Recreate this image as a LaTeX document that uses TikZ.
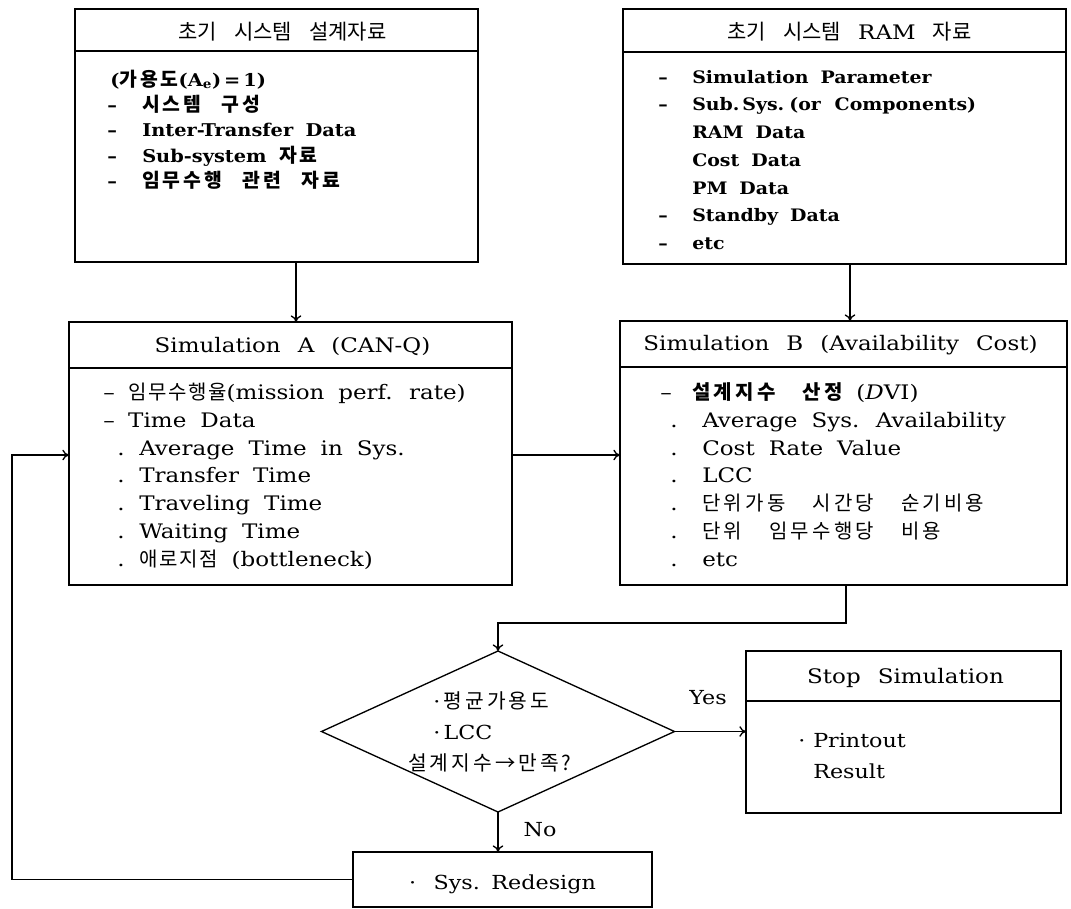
\documentclass[tikz,border=0pt]{standalone}
\usepackage{fontspec}
\setmainfont{DejaVu Serif}[FakeStretch=1.15]
\newfontfamily\bsf{DejaVu Serif}[FakeStretch=1.1]
\newfontfamily\kr{Noto Sans CJK KR}[Scale=1.05,LetterSpace=15]
\newfontfamily\krh{Noto Sans CJK KR}[Scale=1.05]
\newfontfamily\kra{Noto Sans CJK KR}[Scale=1.0,LetterSpace=8]
\newfontfamily\krb{Noto Sans CJK KR}[Scale=1.0,LetterSpace=16]
\newfontfamily\krc{Noto Sans CJK KR}[Scale=1.1,LetterSpace=15]
\usetikzlibrary{arrows.meta,shapes.geometric,calc}
\newcommand\mk[2]{\strut\makebox[#1][l]{#2}}
\newcommand\wsp{\spaceskip 0.7em\relax}
\newcommand\wsph{\spaceskip 0.85em\relax}
\newcommand\kw{\hspace{1.05em}}
\newcommand\kwb{\hspace{1.35em}}
\begin{document}
\begin{tikzpicture}[x=0.75pt,y=-0.75pt,
  box/.style={draw, line width=1pt, rectangle, inner sep=0pt, outer sep=0pt, anchor=north west},
  hdr/.style={font=\fontsize{15}{18}\selectfont\wsph, inner sep=0pt},
  body/.style={font=\fontsize{15}{20.8}\selectfont\wsp, align=left, inner sep=0pt, anchor=north west},
  bodybold/.style={body, font=\bsf\fontsize{12.9}{20.8}\selectfont\bfseries\wsp},
  bodyb/.style={body, font=\bsf\fontsize{13.2}{19}\selectfont\bfseries\wsp},
  bodyc/.style={body, font=\fontsize{14.5}{23.25}\selectfont\wsp},
  conn/.style={line width=1pt},
  arr/.style={conn, -{To[length=5pt,width=8pt]}},
  lbl/.style={font=\fontsize{14.5}{17}\selectfont, inner sep=0pt}
]
\fill[white] (0,0) rectangle (1071,908);
\useasboundingbox (0,0) rectangle (1071,908);

% boxes
\node[box, minimum width=403*0.75pt, minimum height=253*0.75pt] (b1) at (75,9) {};
\node[box, minimum width=443*0.75pt, minimum height=255*0.75pt] (b2) at (623,9) {};
\node[box, minimum width=443*0.75pt, minimum height=263*0.75pt] (bA) at (69,322) {};
\node[box, minimum width=447*0.75pt, minimum height=264*0.75pt] (bB) at (620,321) {};
\node[box, minimum width=315*0.75pt, minimum height=162*0.75pt] (stop) at (746,651) {};
\node[box, minimum width=299*0.75pt, minimum height=55*0.75pt] (red) at (353,852) {};
\node[draw, diamond, line width=1pt, minimum width=353*0.75pt, minimum height=161*0.75pt, inner sep=0pt, outer sep=0pt] (dec) at (498,731.5) {};

% header separators
\draw[conn] ($(b1.north west)+(0,42)$) -- ($(b1.north east)+(0,42)$);
\draw[conn] ($(b2.north west)+(0,43)$) -- ($(b2.north east)+(0,43)$);
\draw[conn] ($(bA.north west)+(0,46)$) -- ($(bA.north east)+(0,46)$);
\draw[conn] ($(bB.north west)+(0,46)$) -- ($(bB.north east)+(0,46)$);
\draw[conn] ($(stop.north west)+(0,50)$) -- ($(stop.north east)+(0,50)$);

% headers
\node[hdr] (h1) at ($(b1.north)+(6,23)$) {{\krh 초기 시스템 설계자료}};
\node[hdr] (h2) at ($(b2.north)+(5,23)$) {{\krh 초기 시스템} RAM {\krh 자료}};
\node[hdr] (hA) at ($(bA.north)+(2,24)$) {Simulation A (CAN-Q)};
\node[hdr] (hB) at ($(bB.north)+(-3,24)$) {Simulation B (Availability Cost)};
\node[hdr] (hS) at ($(stop.north)+(2,27)$) {Stop Simulation};

% bodies
\node[bodyb] (t1) at (107,68) {%
\strut\hspace*{2.25pt}({\krc 가용도}(A\textsubscript{e})\,=\,1)\\
\mk{26.25pt}{–}{\krc 시스템\kw 구성}\\
\mk{26.25pt}{–}Inter-Transfer Data\\
\mk{26.25pt}{–}Sub-system {\krc 자료}\\
\mk{26.25pt}{–}{\krc 임무수행\kw 관련\kw 자료}};

\node[bodybold] (t2) at (658,63.5) {%
\mk{25.5pt}{–}Simulation Parameter\\
\mk{25.5pt}{–}Sub.\,Sys.\hspace{0.3em}(or\hspace{0.8em}Components)\\
\mk{25.5pt}{}RAM Data\\
\mk{25.5pt}{}Cost Data\\
\mk{25.5pt}{}PM Data\\
\mk{25.5pt}{–}Standby Data\\
\mk{25.5pt}{–}etc};

\node[body] (tA) at (103,380) {%
\mk{18.75pt}{–}{\kra 임무수행율}(mission perf. rate)\\
\mk{18.75pt}{–}Time Data\\
\hspace*{10.5pt}\mk{16.5pt}{.}Average Time in Sys.\\
\hspace*{10.5pt}\mk{16.5pt}{.}Transfer Time\\
\hspace*{10.5pt}\mk{16.5pt}{.}Traveling Time\\
\hspace*{10.5pt}\mk{16.5pt}{.}Waiting Time\\
\hspace*{10.5pt}\mk{16.5pt}{.}{\kra 애로지점} (bottleneck)};

\node[body] (tB) at (660,380) {%
\mk{24pt}{–}{\krb\bfseries 설계지수\kwb 산정} (\textit{D}VI)\\
\hspace*{7.5pt}\mk{24pt}{.}Average Sys. Availability\\
\hspace*{7.5pt}\mk{24pt}{.}Cost Rate Value\\
\hspace*{7.5pt}\mk{24pt}{.}LCC\\
\hspace*{7.5pt}\mk{24pt}{.}{\krb 단위가동\kwb 시간당\kwb 순기비용}\\
\hspace*{7.5pt}\mk{24pt}{.}{\krb 단위\kwb 임무수행당\kwb 비용}\\
\hspace*{7.5pt}\mk{24pt}{.}etc};

\node[bodyc] (tS) at (798,726) {%
\mk{11.25pt}{·}Printout\\
\mk{11.25pt}{}Result};

\node[bodyc] (tD) at (408,687) {%
\strut\hspace*{18.75pt}·\,{\kr 평균가용도}\\
\strut\hspace*{18.75pt}·\,LCC\\
\strut{\kr 설계지수→만족?}};

\node[lbl] (tR) at ($(red.center)+(0,5)$) {·\hspace{0.9em}Sys.\hspace{0.6em}Redesign};

\node[lbl] (yes) at (708,698) {Yes};
\node[lbl] (no) at (540,830) {No};

% connectors
\coordinate (c1) at (296,0);
\coordinate (c2) at (850,0);
\coordinate (c3) at (0,455);
\coordinate (c4) at (846,623);
\coordinate (c5) at (12,0);
\draw[arr] (b1.south -| c1) -- (bA.north -| c1);
\draw[arr] (b2.south -| c2) -- (bB.north -| c2);
\draw[arr] (bA.east |- c3) -- (bB.west |- c3);
\draw[arr] (bB.south -| c4) -- (c4) -- (c4 -| dec.north) -- (dec.north);
\draw[arr] (dec.east) -- (stop.west |- dec.east);
\draw[arr] (dec.south) -- (red.north -| dec.south);
\draw[arr] (red.west) -- (red.west -| c5) -- (c5 |- c3) -- (bA.west |- c3);
\end{tikzpicture}
\end{document}
